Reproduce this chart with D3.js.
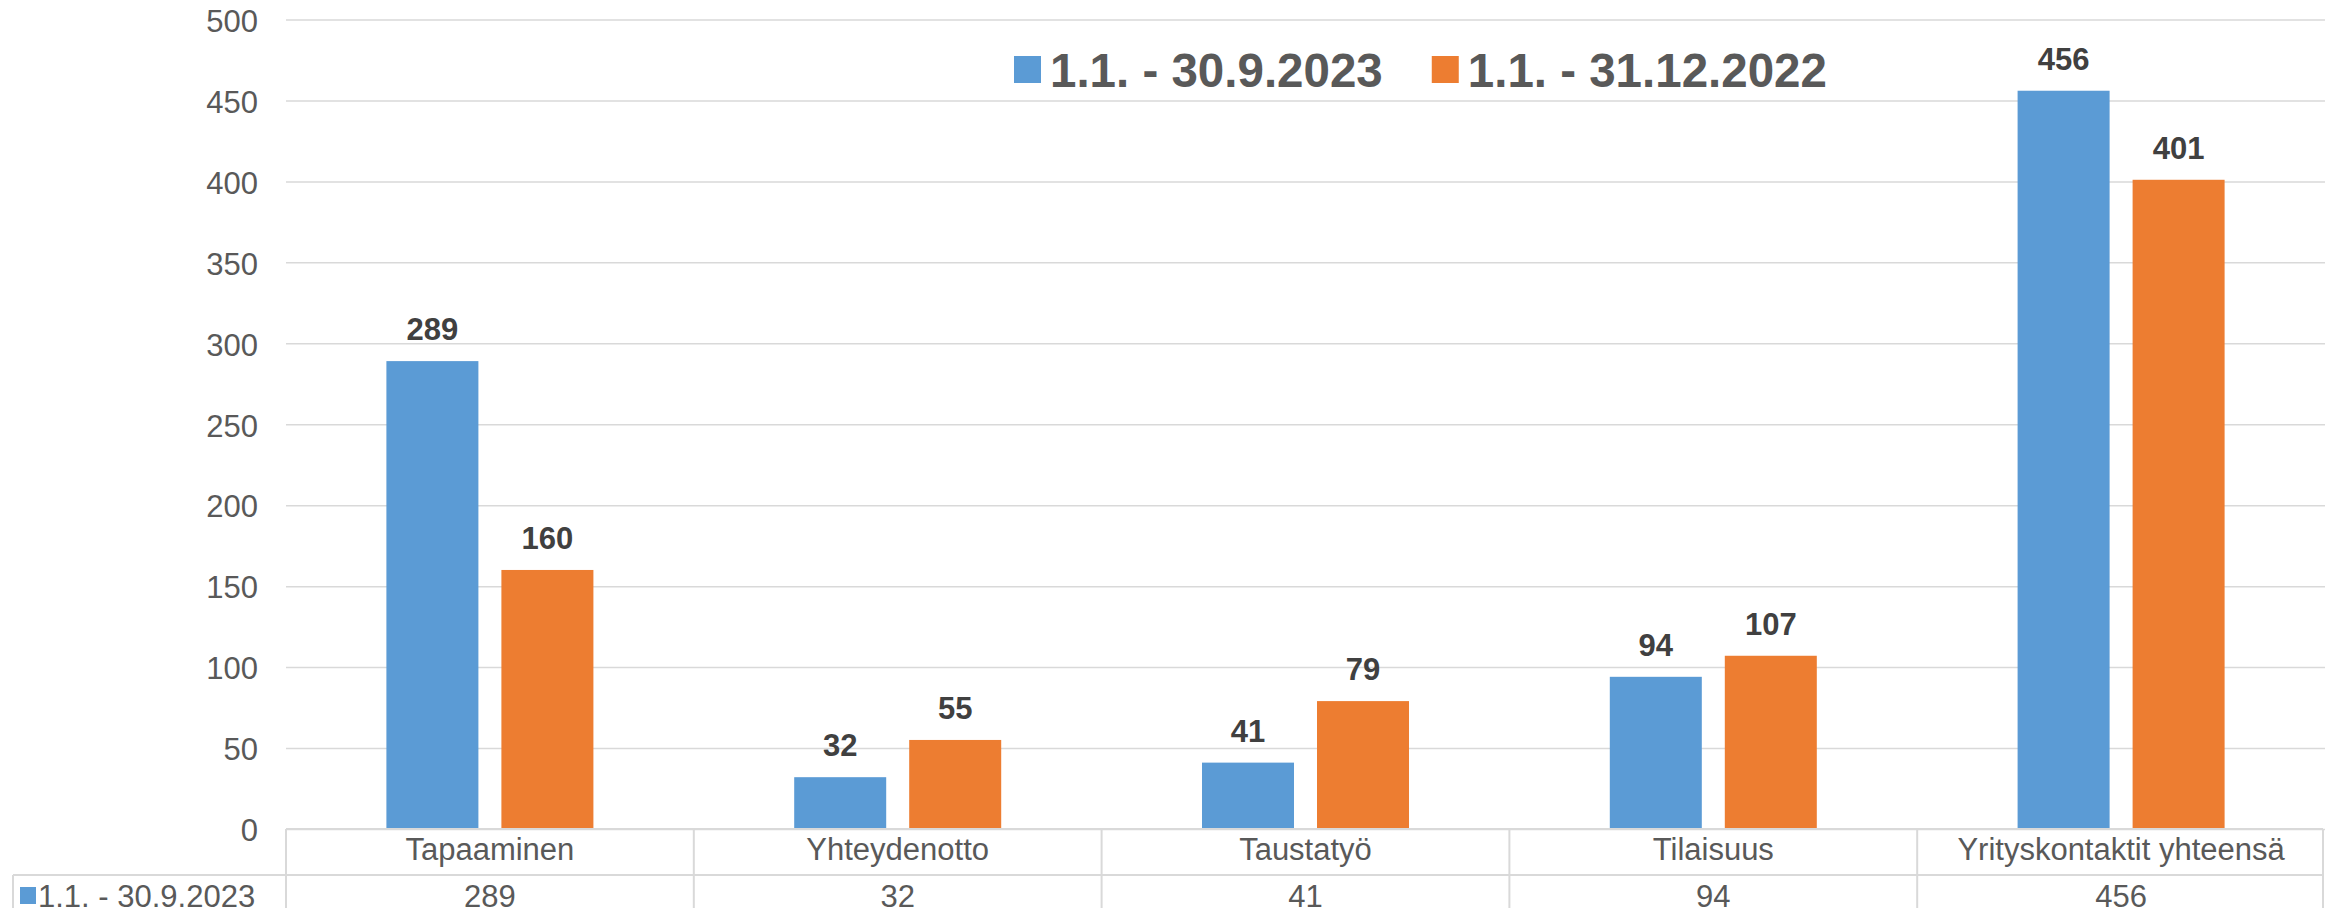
<!DOCTYPE html>
<html>
<head>
<meta charset="utf-8">
<script src="https://cdn.jsdelivr.net/npm/d3@7"></script>
<style>
  body { margin: 0; background: #fff; }
  svg { display: block; font-family: "Liberation Sans", Arial, sans-serif; }
</style>
</head>
<body>
<div id="chart"></div>
<script>
// chart data
var categories = ["Tapaaminen", "Yhteydenotto", "Taustatyö", "Tilaisuus", "Yrityskontaktit yhteensä"];
var seriesNames = ["1.1. - 30.9.2023", "1.1. - 31.12.2022"];
var values2023 = [289, 32, 41, 94, 456];
var values2022 = [160, 55, 79, 107, 401];
var yTicks = [0, 50, 100, 150, 200, 250, 300, 350, 400, 450, 500];

var colors = ["#5B9BD5", "#ED7D31"];
var seriesValues = [values2023, values2022];

var svgWidth = 2325;
var svgHeight = 908;

// plot area
var margin = { top: 19.5, right: 0, bottom: 79, left: 286 };
var chartWidth = svgWidth - margin.left - margin.right;
var chartHeight = svgHeight - margin.top - margin.bottom;

var svg = d3.select("#chart")
  .append("svg")
  .attr("width", svgWidth)
  .attr("height", svgHeight);

var chartGroup = svg.append("g")
  .attr("transform", `translate(${margin.left}, ${margin.top})`);

// scales
var x0 = d3.scaleBand()
  .domain(categories)
  .range([0, chartWidth])
  .padding(0);

var x1 = d3.scaleBand()
  .domain(seriesNames)
  .range([0, x0.bandwidth()])
  .paddingInner(0.2)
  .paddingOuter(0.873);

var yScale = d3.scaleLinear()
  .domain([0, 500])
  .range([chartHeight, 0]);

// gridlines + y labels
var yAxis = d3.axisLeft(yScale)
  .tickValues(yTicks)
  .tickSize(-chartWidth)
  .tickPadding(28);

var yG = chartGroup.append("g").call(yAxis);
yG.select(".domain").remove();
yG.selectAll(".tick line")
  .attr("stroke", "#D9D9D9")
  .attr("stroke-width", 1.5);
yG.selectAll(".tick text")
  .attr("fill", "#595959")
  .attr("dy", "0.38em")
  .style("font-size", "31px");

// bars
var rows = categories.map(function(c, i) {
  return seriesNames.map(function(s, j) {
    return { cat: c, series: s, value: seriesValues[j][i], color: colors[j] };
  });
});

var groups = chartGroup.selectAll("g.cat")
  .data(rows)
  .enter()
  .append("g")
  .attr("class", "cat")
  .attr("transform", (d, i) => `translate(${x0(categories[i])}, 0)`);

groups.selectAll("rect")
  .data(d => d)
  .enter()
  .append("rect")
  .attr("x", d => x1(d.series))
  .attr("y", d => yScale(d.value))
  .attr("width", x1.bandwidth())
  .attr("height", d => chartHeight - yScale(d.value))
  .attr("fill", d => d.color);

groups.selectAll("text.val")
  .data(d => d)
  .enter()
  .append("text")
  .attr("class", "val")
  .attr("x", d => x1(d.series) + x1.bandwidth() / 2)
  .attr("y", d => yScale(d.value) - 21)
  .attr("text-anchor", "middle")
  .attr("fill", "#404040")
  .style("font-size", "31px")
  .style("font-weight", "bold")
  .text(d => d.value);

// data table below the axis
var tableTop = margin.top + chartHeight;   // 829
var rowH = 46;
var tableRight = svgWidth - 2;
var gridColor = "#D9D9D9";
var table = svg.append("g");

// top border along zero line
table.append("line")
  .attr("x1", margin.left).attr("x2", tableRight)
  .attr("y1", tableTop).attr("y2", tableTop)
  .attr("stroke", gridColor).attr("stroke-width", 2);

// vertical separators
categories.forEach(function(c) {
  table.append("line")
    .attr("x1", margin.left + x0(c)).attr("x2", margin.left + x0(c))
    .attr("y1", tableTop).attr("y2", svgHeight + 60)
    .attr("stroke", gridColor).attr("stroke-width", 2);
});
table.append("line")
  .attr("x1", tableRight).attr("x2", tableRight)
  .attr("y1", tableTop).attr("y2", svgHeight + 60)
  .attr("stroke", gridColor).attr("stroke-width", 2);

// category names
table.selectAll("text.cat")
  .data(categories)
  .enter()
  .append("text")
  .attr("x", d => margin.left + x0(d) + x0.bandwidth() / 2)
  .attr("y", tableTop + 31)
  .attr("text-anchor", "middle")
  .attr("fill", "#595959")
  .style("font-size", "31px")
  .text(d => d);

// series rows
seriesNames.forEach(function(s, j) {
  var top = tableTop + rowH * (j + 1);
  table.append("line")
    .attr("x1", 13).attr("x2", tableRight)
    .attr("y1", top).attr("y2", top)
    .attr("stroke", gridColor).attr("stroke-width", 2);
  table.append("line")
    .attr("x1", 13).attr("x2", 13)
    .attr("y1", top).attr("y2", top + rowH)
    .attr("stroke", gridColor).attr("stroke-width", 2);
  table.append("rect")
    .attr("x", 20).attr("y", top + 12)
    .attr("width", 16).attr("height", 17)
    .attr("fill", colors[j]);
  table.append("text")
    .attr("x", 38).attr("y", top + 32)
    .attr("fill", "#595959")
    .style("font-size", "31px")
    .text(s);
  table.selectAll("text.v" + j)
    .data(seriesValues[j])
    .enter()
    .append("text")
    .attr("x", (d, i) => margin.left + x0(categories[i]) + x0.bandwidth() / 2)
    .attr("y", top + 32)
    .attr("text-anchor", "middle")
    .attr("fill", "#595959")
    .style("font-size", "31px")
    .text(d => d);
});

// legend
var legend = svg.append("g");
var lx = 1014;
seriesNames.forEach(function(s, j) {
  legend.append("rect")
    .attr("x", lx).attr("y", 56)
    .attr("width", 27).attr("height", 27)
    .attr("fill", colors[j]);
  var t = legend.append("text")
    .attr("x", lx + 36).attr("y", 87)
    .attr("fill", "#595959")
    .style("font-size", "47.5px")
    .style("font-weight", "bold")
    .text(s);
  lx = lx + 36 + t.node().getComputedTextLength() + 49;
});
</script>
</body>
</html>
